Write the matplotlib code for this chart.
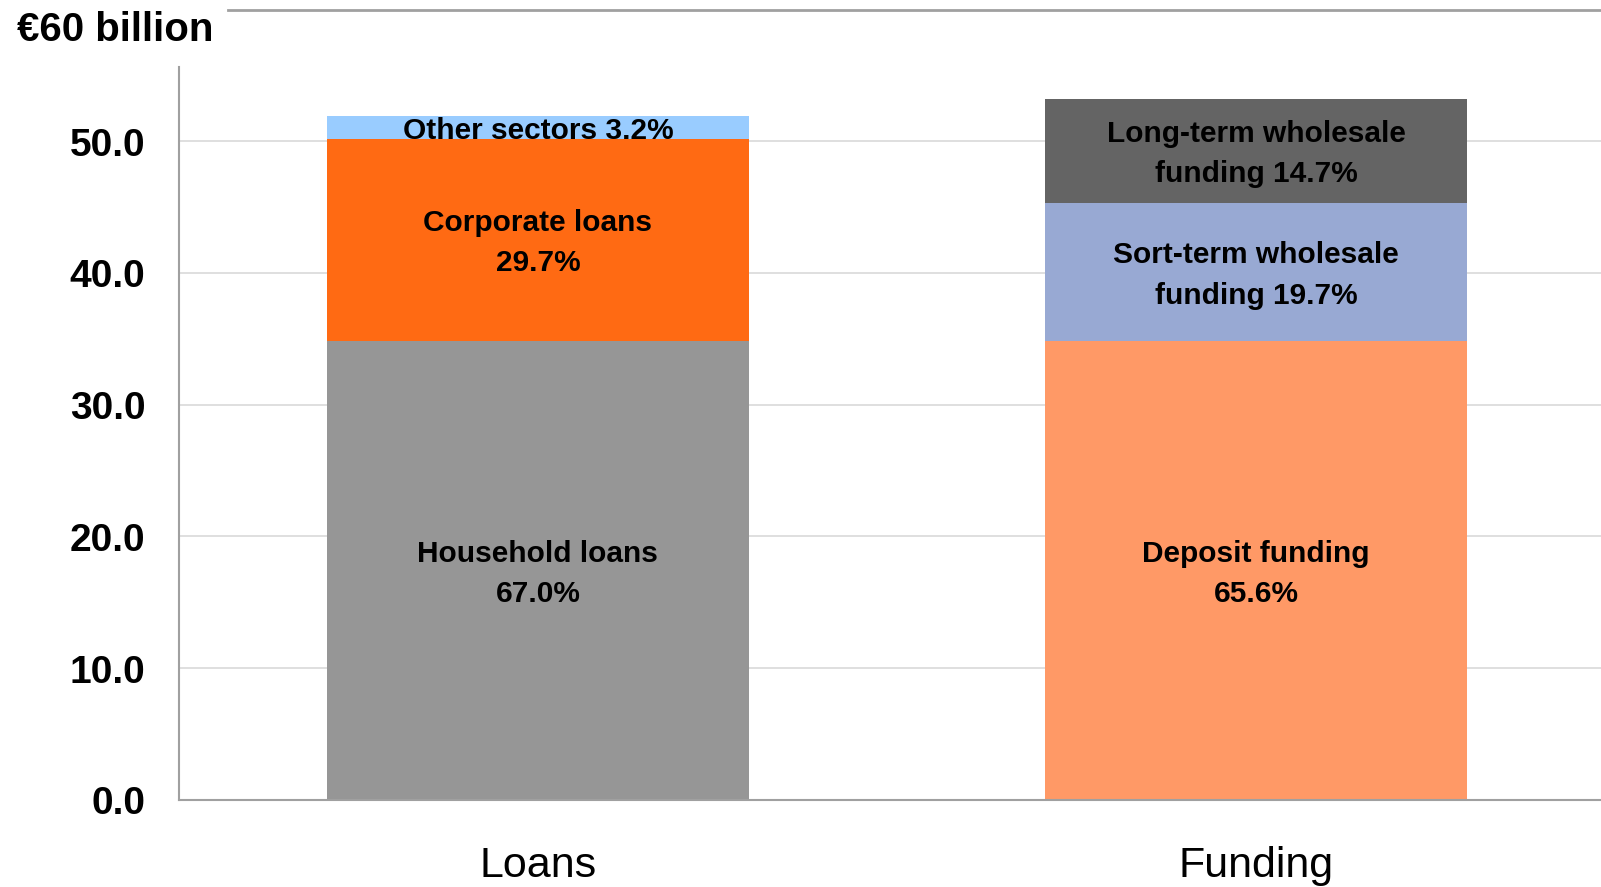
import matplotlib.pyplot as plt
import numpy as np

plt.rcParams['font.family'] = ['Liberation Sans', 'DejaVu Sans']

# Dados
categories = ["Loans", "Funding"]

loan_values = [34.8, 15.4, 1.7]
loan_labels = ["Household loans\n67.0%", "Corporate loans\n29.7%", "Other sectors 3.2%"]
loan_colors = ["#969696", "#FF6A13", "#99CCFF"]

funding_values = [34.8, 10.5, 7.9]
funding_labels = ["Deposit funding\n65.6%", "Sort-term wholesale\nfunding 19.7%",
                  "Long-term wholesale\nfunding 14.7%"]
funding_colors = ["#FF9966", "#98A9D3", "#646464"]

yticks = [0, 10, 20, 30, 40, 50]
unit_label = "€60 billion"

fig = plt.figure(figsize=(16.01, 8.875), dpi=100)
ax = fig.add_axes([0.1116, 0.0981, 0.8884, 0.8906])

x = np.arange(len(categories))
width = 0.587

stacks = [(loan_values, loan_labels, loan_colors),
          (funding_values, funding_labels, funding_colors)]

for i, (values, labels, colors) in enumerate(stacks):
    bottom = 0
    for v, lab, c in zip(values, labels, colors):
        ax.bar(x[i], v, width, bottom=bottom, color=c, zorder=2)
        ax.text(x[i], bottom + v / 2 - 0.2, lab, ha='center', va='center',
                fontsize=21.5, fontweight='bold', color='black', zorder=3,
                linespacing=1.55)
        bottom += v

ax.set_xlim(-0.5, 1.48)
ax.set_ylim(0, 60)

ax.set_yticks(yticks)
ax.set_yticklabels([f"{t:.1f}" for t in yticks], fontsize=28, fontweight='bold')
ax.set_xticks(x)
ax.set_xticklabels(categories, fontsize=31)
ax.tick_params(axis='y', length=0, pad=24)
ax.tick_params(axis='x', length=0, pad=33)

for t in yticks[1:]:
    ax.axhline(t, color='#d9d9d9', lw=1.2, zorder=1)
ax.axhline(60, xmin=0.035, color='#a0a0a0', lw=2, zorder=1, clip_on=False)

for s in ['top', 'right']:
    ax.spines[s].set_visible(False)
ax.spines['left'].set_color('#a0a0a0')
ax.spines['left'].set_linewidth(1.5)
ax.spines['left'].set_bounds(0, 55.6)
ax.spines['bottom'].set_color('#a0a0a0')
ax.spines['bottom'].set_linewidth(1.5)

fig.text(17 / 1601, 1 - 30 / 887, unit_label, ha='left', va='center',
         fontsize=29, fontweight='bold')

fig.savefig("out.png", dpi=100)
